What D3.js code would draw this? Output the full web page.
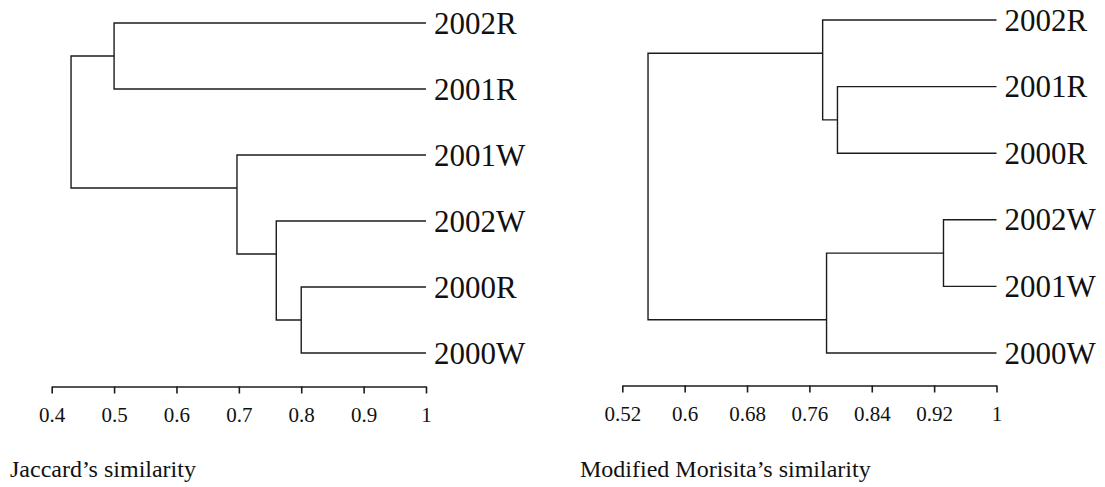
<!DOCTYPE html>
<html>
<head>
<meta charset="utf-8">
<script src="https://cdn.jsdelivr.net/npm/d3@7"></script>
<style>
  html, body { margin: 0; padding: 0; background: #fff; }
  svg text { font-family: "Liberation Serif", "Times New Roman", serif; fill: #111; }
</style>
</head>
<body>
<script>
// ---- Data ----
// Jaccard's similarity dendrogram
const jaccardLeaves = ["2002R", "2001R", "2001W", "2002W", "2000R", "2000W"];
// merges: [child A, child B, similarity]; "m<i>" refers to the i-th merge (1-based)
const jaccardMerges = [
  ["2002R", "2001R", 0.50],
  ["2000R", "2000W", 0.80],
  ["2002W", "m2", 0.76],
  ["2001W", "m3", 0.697],
  ["m1", "m4", 0.431]
];
const jaccardTicks = [0.4, 0.5, 0.6, 0.7, 0.8, 0.9, 1];
const jaccardTickLabels = ["0.4", "0.5", "0.6", "0.7", "0.8", "0.9", "1"];
const jaccardTitle = "Jaccard\u2019s similarity";

// Modified Morisita's similarity dendrogram
const morisitaLeaves = ["2002R", "2001R", "2000R", "2002W", "2001W", "2000W"];
const morisitaMerges = [
  ["2001R", "2000R", 0.796],
  ["2002R", "m1", 0.777],
  ["2002W", "2001W", 0.932],
  ["m3", "2000W", 0.782],
  ["m2", "m4", 0.553]
];
const morisitaTicks = [0.52, 0.6, 0.68, 0.76, 0.84, 0.92, 1];
const morisitaTickLabels = ["0.52", "0.6", "0.68", "0.76", "0.84", "0.92", "1"];
const morisitaTitle = "Modified Morisita\u2019s similarity";

// ---- Drawing ----
const W = 1105, H = 487;
const svg = d3.select("body").append("svg")
  .attr("width", W).attr("height", H)
  .attr("viewBox", `0 0 ${W} ${H}`);

const stroke = "#1c1c1c";

function drawDendrogram(o) {
  const x = d3.scaleLinear().domain(o.domain).range(o.xRange);
  const y = d3.scalePoint().domain(o.leaves).range(o.yRange);

  const nodes = {};
  o.leaves.forEach(name => { nodes[name] = { name, h: 1, leafList: [name] }; });
  o.merges.forEach(([a, b, h], i) => {
    const id = "m" + (i + 1);
    nodes[id] = {
      name: id, h,
      children: [nodes[a], nodes[b]],
      leafList: nodes[a].leafList.concat(nodes[b].leafList)
    };
  });
  const rootObj = nodes["m" + o.merges.length];
  const root = d3.hierarchy(rootObj);

  // node vertical position: leaf -> its slot; internal -> midway between
  // the adjacent leaves at the boundary of its two children
  function ny(d) {
    if (!d.children) return y(d.name);
    const a = d.children[0].leafList, b = d.children[1].leafList;
    return (y(a[a.length - 1]) + y(b[0])) / 2;
  }

  const g = svg.append("g");
  root.descendants().filter(d => d.children).forEach(d => {
    const [c0, c1] = d.data.children;
    const p = d3.path();
    p.moveTo(x(c0.h), ny(c0));
    p.lineTo(x(d.data.h), ny(c0));
    p.lineTo(x(d.data.h), ny(c1));
    p.lineTo(x(c1.h), ny(c1));
    g.append("path")
      .attr("d", p.toString())
      .attr("fill", "none")
      .attr("stroke", stroke)
      .attr("stroke-width", 1.4);
  });

  // leaf labels
  g.selectAll("text.leaf").data(o.leaves).join("text")
    .attr("class", "leaf")
    .attr("x", x(1) + 8)
    .attr("y", d => y(d))
    .attr("dy", "0.34em")
    .attr("font-size", 31)
    .text(d => d);

  // axis
  const axis = d3.axisBottom(x)
    .tickValues(o.ticks)
    .tickFormat((d, i) => o.tickLabels[i])
    .tickSize(7)
    .tickSizeOuter(0)
    .tickPadding(14);
  const ag = svg.append("g")
    .attr("transform", `translate(0,${o.axisY})`)
    .call(axis);
  ag.select(".domain").attr("stroke", stroke).attr("stroke-width", 1.6);
  ag.selectAll(".tick line").attr("stroke", stroke).attr("stroke-width", 1.6);
  ag.selectAll(".tick text")
    .attr("font-size", 21)
    .attr("font-family", "Liberation Serif, Times New Roman, serif")
    .attr("fill", "#111");

  // title
  svg.append("text")
    .attr("x", o.titleX).attr("y", o.titleY)
    .attr("font-size", 24)
    .text(o.title);
}

drawDendrogram({
  leaves: jaccardLeaves, merges: jaccardMerges,
  ticks: jaccardTicks, tickLabels: jaccardTickLabels, title: jaccardTitle,
  domain: [0.4, 1], xRange: [51.7, 426], yRange: [23, 353],
  axisY: 386.5, titleX: 10, titleY: 477
});

drawDendrogram({
  leaves: morisitaLeaves, merges: morisitaMerges,
  ticks: morisitaTicks, tickLabels: morisitaTickLabels, title: morisitaTitle,
  domain: [0.52, 1], xRange: [622.3, 996.5], yRange: [20, 353],
  axisY: 385.5, titleX: 580, titleY: 477
});
</script>
</body>
</html>
